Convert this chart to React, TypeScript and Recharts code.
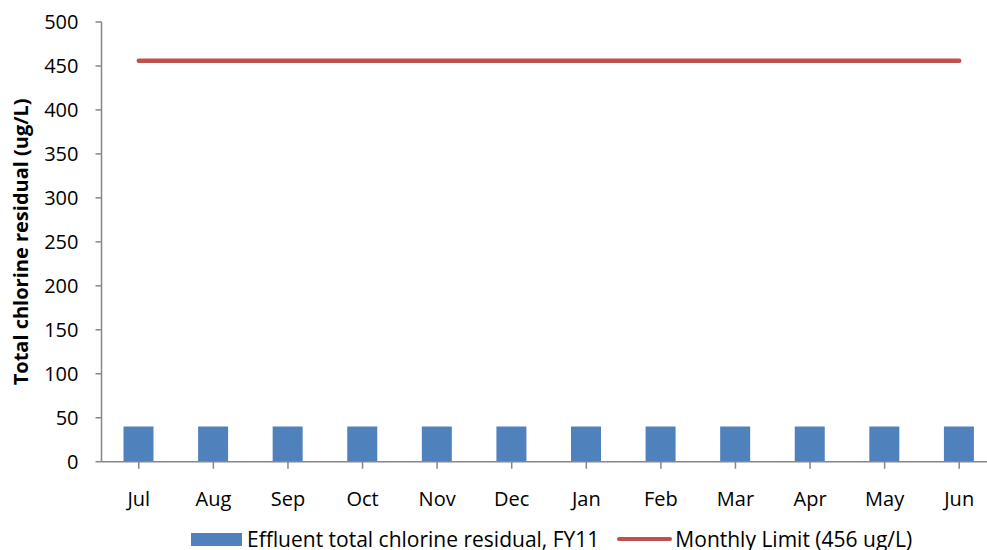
import React from 'react';
import { ComposedChart, Bar, Line, XAxis, YAxis, Legend, Label } from 'recharts';

const months = ['Jul', 'Aug', 'Sep', 'Oct', 'Nov', 'Dec', 'Jan', 'Feb', 'Mar', 'Apr', 'May', 'Jun'];
const effluentFY11 = [40, 40, 40, 40, 40, 40, 40, 40, 40, 40, 40, 40];
const monthlyLimit = [456, 456, 456, 456, 456, 456, 456, 456, 456, 456, 456, 456];
const yTicks = [0, 50, 100, 150, 200, 250, 300, 350, 400, 450, 500];

const seriesNames = {
  effluent: 'Effluent total chlorine residual, FY11',
  limit: 'Monthly Limit (456 ug/L)',
};

const data = months.map((m, i) => ({ month: m, effluent: effluentFY11[i], limit: monthlyLimit[i] }));

const FONT = '"Open Sans", Lato, sans-serif';
const BLUE = '#4F81BD';
const RED = '#C0504D';
const AXIS = '#868686';

const LegendContent = () => (
  <div style={{ display: 'flex', alignItems: 'center', fontFamily: FONT, fontSize: 21, color: '#000', whiteSpace: 'nowrap', lineHeight: '20px', height: 20 }}>
    <span style={{ display: 'inline-block', width: 51, height: 13, background: BLUE, marginRight: 5 }} />
    <span>{seriesNames.effluent}</span>
    <span style={{ display: 'inline-block', width: 55, height: 4.5, borderRadius: 3, background: RED, marginLeft: 18, marginRight: 3 }} />
    <span>{seriesNames.limit}</span>
  </div>
);

export default function App() {
  return (
    <div style={{ position: 'absolute', left: 0, top: 0, width: 987, height: 550, overflow: 'hidden', background: '#fff' }}>
      <ComposedChart
        width={1000}
        height={550}
        data={data}
        margin={{ top: 22, right: 3.5, bottom: 0, left: 0 }}
        barCategoryGap={0}
      >
        <XAxis
          dataKey="month"
          height={88.3}
          axisLine={{ stroke: AXIS, strokeWidth: 1.5 }}
          tickLine={{ stroke: AXIS, strokeWidth: 1.5 }}
          tickSize={7}
          tickMargin={23}
          interval={0}
          tick={{ fill: '#000', fontSize: 20, fontFamily: FONT }}
        />
        <YAxis
          width={101.5}
          domain={[0, 500]}
          ticks={yTicks}
          interval={0}
          axisLine={{ stroke: AXIS, strokeWidth: 1.5 }}
          tickLine={{ stroke: AXIS, strokeWidth: 1.5 }}
          tickSize={6}
          tickMargin={17}
          tick={{ fill: '#000', fontSize: 20, fontFamily: FONT }}
        >
          <Label
            value="Total chlorine residual (ug/L)"
            angle={-90}
            position="insideLeft"
            offset={21}
            style={{ textAnchor: 'middle', fontWeight: 'bold', fontSize: 20, fontFamily: FONT, fill: '#000' }}
          />
        </YAxis>
        <Legend
          layout="horizontal"
          verticalAlign="middle"
          align="center"
          content={<LegendContent />}
          wrapperStyle={{ left: 191, top: 529, width: 'auto' }}
        />
        <Bar dataKey="effluent" name={seriesNames.effluent} fill={BLUE} barSize={30} isAnimationActive={false} />
        <Line
          dataKey="limit"
          name={seriesNames.limit}
          stroke={RED}
          strokeWidth={4.5}
          strokeLinecap="round"
          dot={false}
          activeDot={false}
          isAnimationActive={false}
        />
      </ComposedChart>
    </div>
  );
}
